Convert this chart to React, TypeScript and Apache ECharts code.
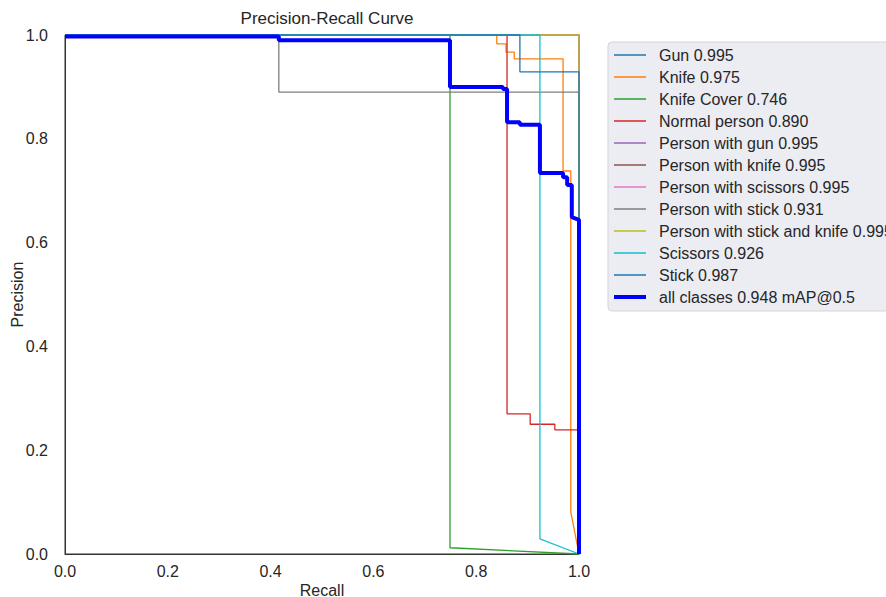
import React, { useEffect, useRef } from "react";
import * as echarts from "echarts";

const classNames = [
  "Gun 0.995",
  "Knife 0.975",
  "Knife Cover 0.746",
  "Normal person 0.890",
  "Person with gun 0.995",
  "Person with knife 0.995",
  "Person with scissors 0.995",
  "Person with stick 0.931",
  "Person with stick and knife 0.995",
  "Scissors 0.926",
  "Stick 0.987",
];
const allName = "all classes 0.948 mAP@0.5";

const colors = [
  "#1f77b4", "#ff7f0e", "#2ca02c", "#d62728", "#9467bd", "#8c564b",
  "#e377c2", "#7f7f7f", "#bcbd22", "#17becf", "#1f77b4",
];

const gunR = [0, 1, 1];
const gunP = [1, 1, 0];
const knifeR = [0, 0.840, 0.840, 0.858, 0.858, 0.874, 0.874, 0.969, 0.969, 0.984, 0.984, 1.0];
const knifeP = [1, 1, 0.983, 0.983, 0.967, 0.967, 0.954, 0.954, 0.738, 0.738, 0.081, 0];
const coverR = [0, 0.749, 0.749, 1.0];
const coverP = [1, 1, 0.012, 0];
const normalR = [0, 0.860, 0.860, 0.905, 0.905, 0.953, 0.953, 0.998, 0.998];
const normalP = [1, 1, 0.270, 0.270, 0.250, 0.250, 0.239, 0.239, 0];
const pGunR = [0, 1, 1];
const pGunP = [1, 1, 0];
const pKnifeR = [0, 1, 1];
const pKnifeP = [1, 1, 0];
const pScissorsR = [0, 1, 1];
const pScissorsP = [1, 1, 0];
const pStickR = [0, 0.416, 0.416, 1, 1];
const pStickP = [1, 1, 0.890, 0.890, 0];
const pStickKnifeR = [0, 1, 1];
const pStickKnifeP = [1, 1, 0];
const scissorsR = [0, 0.924, 0.924, 1.0];
const scissorsP = [1, 1, 0.029, 0];
const stickR = [0, 0.885, 0.885, 1, 1];
const stickP = [1, 1, 0.929, 0.929, 0];
const allR = [0, 0.416, 0.416, 0.749, 0.749, 0.852, 0.852, 0.860, 0.860, 0.885, 0.885, 0.924, 0.924, 0.969, 0.969, 0.977, 0.977, 0.986, 0.986, 1.0, 1.0];
const allP = [0.997, 0.997, 0.990, 0.990, 0.900, 0.900, 0.896, 0.896, 0.832, 0.832, 0.827, 0.827, 0.734, 0.734, 0.726, 0.726, 0.711, 0.711, 0.649, 0.644, 0];

const classR = [gunR, knifeR, coverR, normalR, pGunR, pKnifeR, pScissorsR, pStickR, pStickKnifeR, scissorsR, stickR];
const classP = [gunP, knifeP, coverP, normalP, pGunP, pKnifeP, pScissorsP, pStickP, pStickKnifeP, scissorsP, stickP];

const FONT = "Liberation Sans, Arial, sans-serif";
const TXT = "#262626";
const FS = 16;

export default function App() {
  const ref = useRef<HTMLDivElement>(null);
  useEffect(() => {
    if (!ref.current) return;
    const chart = echarts.init(ref.current, undefined, { renderer: "svg" });
    const zip = (r: number[], p: number[]) => r.map((x, i) => [x, p[i]]);
    const series: any[] = classNames.map((n, i) => ({
      name: n,
      type: "line",
      data: zip(classR[i], classP[i]),
      showSymbol: false,
      symbol: "none",
      clip: false,
      silent: true,
      lineStyle: { color: colors[i], width: 1.3 },
      itemStyle: { color: colors[i] },
    }));
    series.push({
      name: allName,
      type: "line",
      data: zip(allR, allP),
      showSymbol: false,
      symbol: "none",
      clip: false,
      silent: true,
      lineStyle: { color: "#0000ff", width: 4 },
      itemStyle: { color: "#0000ff" },
    });

    // manual legend (matplotlib style)
    const legX = 608;
    const legY = 42;
    const rowH = 22;
    const legendNames = [...classNames, allName];
    const legendColors = [...colors, "#0000ff"];
    const legendChildren: any[] = [
      {
        type: "rect",
        shape: { x: legX, y: legY, width: 300, height: 12 * rowH + 5, r: 4 },
        style: { fill: "rgba(234,234,242,0.9)", stroke: "#d4d4dc", lineWidth: 1 },
      },
    ];
    legendNames.forEach((n, i) => {
      const cy = legY + 13 + i * rowH;
      legendChildren.push({
        type: "line",
        shape: { x1: legX + 6, y1: cy, x2: legX + 38, y2: cy },
        style: { stroke: legendColors[i], lineWidth: i === 11 ? 4 : 1.5 },
      });
      legendChildren.push({
        type: "text",
        x: legX + 51,
        y: cy,
        style: {
          text: n,
          fontFamily: FONT,
          fontSize: FS,
          fill: TXT,
          verticalAlign: "middle",
          align: "left",
        },
      });
    });

    chart.setOption({
      animation: false,
      textStyle: { fontFamily: FONT },
      title: {
        text: "Precision-Recall Curve",
        left: 322,
        textAlign: "center",
        top: 5,
        textStyle: { fontFamily: FONT, fontSize: 17, fontWeight: "normal", color: TXT },
      },
      grid: {
        left: 65,
        right: 307,
        top: 35,
        bottom: 43,
        outerBoundsMode: "none",
        containLabel: false,
        show: true,
        borderColor: "#333",
        borderWidth: 1,
        backgroundColor: "#ffffff",
      },
      xAxis: {
        type: "value",
        min: 0,
        max: 1,
        interval: 0.2,
        name: "Recall",
        nameLocation: "middle",
        nameGap: 28,
        nameMoveOverlap: false,
        nameTextStyle: { fontFamily: FONT, fontSize: FS, color: TXT },
        axisLine: { show: true, lineStyle: { color: "#333" } },
        axisTick: { show: false },
        splitLine: { show: false },
        axisLabel: {
          fontFamily: FONT,
          fontSize: FS,
          color: TXT,
          margin: 9,
          formatter: (v: number) => v.toFixed(1),
        },
      },
      yAxis: {
        type: "value",
        min: 0,
        max: 1,
        interval: 0.2,
        name: "Precision",
        nameLocation: "middle",
        nameGap: 40,
        nameMoveOverlap: false,
        nameTextStyle: { fontFamily: FONT, fontSize: FS, color: TXT },
        axisLine: { show: true, lineStyle: { color: "#333" } },
        axisTick: { show: false },
        splitLine: { show: false },
        axisLabel: {
          fontFamily: FONT,
          fontSize: FS,
          color: TXT,
          margin: 17,
          formatter: (v: number) => v.toFixed(1),
        },
      },
      graphic: { elements: [{ type: "group", children: legendChildren }] },
      series,
    });
    return () => chart.dispose();
  }, []);
  return <div ref={ref} style={{ width: 886, height: 597, position: "absolute", left: 0, top: 0, background: "#fff" }} />;
}
